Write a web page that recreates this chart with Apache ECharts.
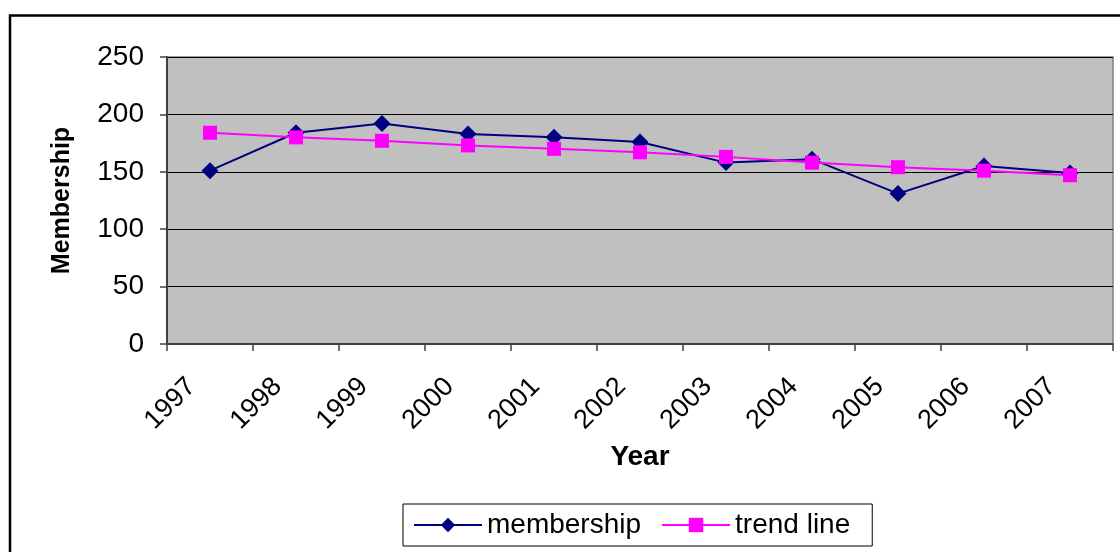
<!DOCTYPE html>
<html>
<head>
<meta charset="utf-8">
<script src="https://cdn.jsdelivr.net/npm/echarts@6/dist/echarts.min.js"></script>
<style>
  html, body { margin: 0; padding: 0; background: #fff; }
  #chart { width: 1120px; height: 552px; }
</style>
</head>
<body>
<div id="chart"></div>
<script>
// values
const years = ['1997', '1998', '1999', '2000', '2001', '2002', '2003', '2004', '2005', '2006', '2007'];
const membership = [151, 184, 192, 183, 180, 176, 158, 161, 131, 155, 149];
const trendLine = [184, 180, 177, 173, 170, 167, 163, 158, 154, 151, 147];
const yTicks = {min: 0, max: 250, step: 50};

const font = '"Liberation Sans", Arial, sans-serif';

const chart = echarts.init(document.getElementById('chart'));
chart.setOption({
  backgroundColor: '#fff',
  animation: false,
  textStyle: {fontFamily: font, color: '#000'},
  graphic: [{
    type: 'rect',
    shape: {x: 10, y: 15.5, width: 1200, height: 600},
    style: {fill: 'none', stroke: '#000', lineWidth: 2.5},
    silent: true
  }],
  grid: {
    left: 167, right: 7, top: 57, bottom: 208,
    show: true,
    backgroundColor: '#c0c0c0',
    borderColor: '#808080',
    borderWidth: 1.5
  },
  legend: {
    left: 403, top: 504,
    padding: [7, 22, 7, 10],
    borderColor: '#000',
    borderWidth: 1,
    itemWidth: 68,
    itemHeight: 18,
    itemGap: 20,
    textStyle: {fontFamily: font, fontSize: 28, color: '#000'},
    data: ['membership', 'trend line']
  },
  xAxis: {
    type: 'category',
    data: years,
    boundaryGap: true,
    name: 'Year',
    nameLocation: 'middle',
    nameGap: 99,
    nameTextStyle: {fontFamily: font, fontSize: 28, fontWeight: 'bold', color: '#000'},
    axisLine: {lineStyle: {color: '#404040', width: 2}},
    axisTick: {show: true, length: 7, lineStyle: {color: '#404040', width: 1.5}},
    axisLabel: {
      interval: 0,
      rotate: 45,
      margin: 20,
      padding: [0, 26, 0, 0],
      fontFamily: font,
      fontSize: 27,
      color: '#000'
    },
    splitLine: {show: false}
  },
  yAxis: {
    type: 'value',
    min: yTicks.min, max: yTicks.max, interval: yTicks.step,
    name: 'Membership',
    nameLocation: 'middle',
    nameRotate: 90,
    nameGap: 92,
    nameTextStyle: {fontFamily: font, fontSize: 25, fontWeight: 'bold', color: '#000'},
    axisLine: {show: true, lineStyle: {color: '#404040', width: 2}},
    axisTick: {show: true, length: 7, lineStyle: {color: '#404040', width: 1.5}},
    axisLabel: {margin: 23, fontFamily: font, fontSize: 28, color: '#000'},
    splitLine: {lineStyle: {color: '#000', width: 1}}
  },
  series: [
    {
      name: 'membership',
      type: 'line',
      data: membership,
      color: '#000080',
      lineStyle: {color: '#000080', width: 2},
      symbol: 'diamond',
      symbolSize: 17,
      itemStyle: {color: '#000080'}
    },
    {
      name: 'trend line',
      type: 'line',
      data: trendLine,
      color: '#ff00ff',
      lineStyle: {color: '#ff00ff', width: 2},
      symbol: 'rect',
      symbolSize: 14,
      itemStyle: {color: '#ff00ff'}
    }
  ]
});
</script>
</body>
</html>
